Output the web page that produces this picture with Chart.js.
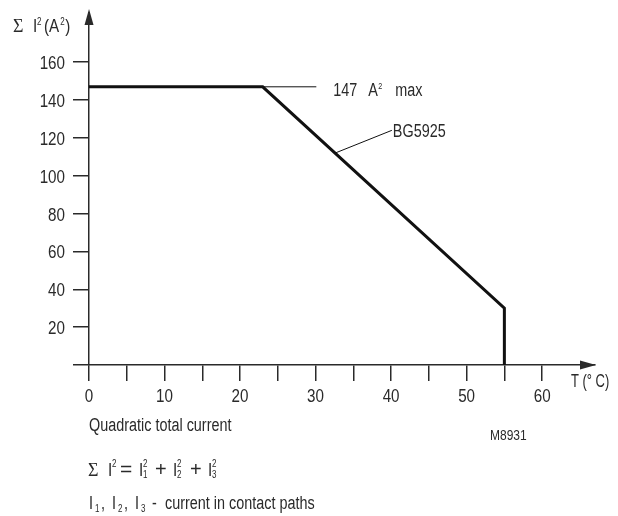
<!DOCTYPE html>
<html>
<head>
<meta charset="utf-8">
<script src="https://cdn.jsdelivr.net/npm/chart.js@4.4.1/dist/chart.umd.min.js"></script>
<style>
  html, body { margin: 0; padding: 0; background: #fff; }
</style>
</head>
<body>
<canvas id="myChart" width="618" height="516"></canvas>
<script>
// data
const temps = [0, 23, 55, 55];
const sumI2 = [147, 147, 30, 0];
const xTicks = [0, 5, 10, 15, 20, 25, 30, 35, 40, 45, 50, 55, 60];
const yTicks = [0, 20, 40, 60, 80, 100, 120, 140, 160];
// leader lines for the two labels
const maxLeaderX = [23, 30.1];
const maxLeaderY = [147, 147];
const bgLeaderX = [32.6, 40.1];
const bgLeaderY = [112, 124];

const FONT = '"Liberation Sans", Arial, sans-serif';
const SERIF = '"Liberation Serif", "DejaVu Serif", serif';
const INK = "#2a2a2a";
const SQ = 0.8; // squeeze to mimic a condensed face

const toPts = (xs, ys) => xs.map((x, i) => ({ x: x, y: ys[i] }));

// draw text squeezed horizontally, returns right edge
function txt(ctx, s, x, y, size, opts) {
  opts = opts || {};
  const sx = opts.sx || SQ;
  const align = opts.align || "left";
  ctx.save();
  ctx.font = size + "px " + (opts.fam || FONT);
  const w = ctx.measureText(s).width * sx;
  let x0 = x;
  if (align === "right") x0 = x - w;
  if (align === "center") x0 = x - w / 2;
  ctx.translate(x0, y);
  ctx.scale(sx, 1);
  ctx.textAlign = "left";
  ctx.fillText(s, 0, 0);
  ctx.restore();
  return x0 + w;
}

const overlay = {
  id: "overlay",
  afterDraw(chart) {
    const ctx = chart.ctx;
    const a = chart.chartArea;
    const xs = chart.scales.x, ys = chart.scales.y;
    ctx.save();
    ctx.fillStyle = INK;
    ctx.textBaseline = "alphabetic";

    // arrow heads
    ctx.beginPath();
    ctx.moveTo(a.left, a.top - 4);
    ctx.lineTo(a.left - 4.5, a.top + 12);
    ctx.lineTo(a.left + 4.5, a.top + 12);
    ctx.closePath();
    ctx.fill();
    ctx.beginPath();
    ctx.moveTo(a.right + 1, a.bottom);
    ctx.lineTo(a.right - 15, a.bottom - 4.5);
    ctx.lineTo(a.right - 15, a.bottom + 4.5);
    ctx.closePath();
    ctx.fill();

    // tick labels from the scales
    xs.ticks.forEach(t => {
      if (t.value % 10 !== 0) return;
      txt(ctx, String(t.value), xs.getPixelForValue(t.value), a.bottom + 37, 19, { align: "center" });
    });
    ys.ticks.forEach(t => {
      if (t.value === 0) return;
      txt(ctx, String(t.value), a.left - 24, ys.getPixelForValue(t.value) + 7, 19, { align: "right" });
    });

    // y axis title
    txt(ctx, "Σ", 13, 32, 18, { fam: SERIF, sx: 1 });
    txt(ctx, "I", 33, 32, 19);
    txt(ctx, "2", 37, 25, 10);
    let e = txt(ctx, "(A", 44, 32, 19);
    txt(ctx, "2", e + 1, 25, 10);
    txt(ctx, ")", e + 6, 32, 19);

    // x axis title
    txt(ctx, "T (° C)", a.right - 24, 387, 18, { sx: 0.72 });

    // 147 A² max
    let px = xs.getPixelForValue(maxLeaderX[1]);
    let py = ys.getPixelForValue(maxLeaderY[1]) + 9;
    txt(ctx, "147", px + 17, py, 18);
    txt(ctx, "A", px + 52, py, 18);
    txt(ctx, "2", px + 62, py - 7, 9);
    txt(ctx, "max", px + 79, py, 18);

    // BG5925
    px = xs.getPixelForValue(bgLeaderX[1]) + 1;
    py = ys.getPixelForValue(bgLeaderY[1]) + 7;
    txt(ctx, "BG5925", px, py, 18);

    // notes below the chart
    txt(ctx, "Quadratic total current", 89, 431, 18);
    txt(ctx, "M8931", 490, 440, 15);

    txt(ctx, "Σ", 88, 476, 18, { fam: SERIF, sx: 1 });
    txt(ctx, "I", 108, 476, 19);
    txt(ctx, "2", 112, 467, 10);
    txt(ctx, "=", 120, 476, 20, { sx: 1.05 });
    txt(ctx, "I", 139, 476, 19);
    txt(ctx, "2", 143, 467, 10);
    txt(ctx, "1", 143, 478, 10);
    txt(ctx, "+", 155, 476, 20, { sx: 1.0 });
    txt(ctx, "I", 173, 476, 19);
    txt(ctx, "2", 177, 467, 10);
    txt(ctx, "2", 177, 478, 10);
    txt(ctx, "+", 190, 476, 20, { sx: 1.0 });
    txt(ctx, "I", 208, 476, 19);
    txt(ctx, "2", 212, 467, 10);
    txt(ctx, "3", 212, 478, 10);

    txt(ctx, "I", 89, 509, 18);
    txt(ctx, "1", 95, 512, 10);
    txt(ctx, ",", 101, 509, 18);
    txt(ctx, "I", 112, 509, 18);
    txt(ctx, "2", 118, 512, 10);
    txt(ctx, ",", 124, 509, 18);
    txt(ctx, "I", 135, 509, 18);
    txt(ctx, "3", 141, 512, 10);
    txt(ctx, "-", 152, 509, 18);
    txt(ctx, "current in contact paths", 165, 509, 18);
    ctx.restore();
  }
};

const ctx = document.getElementById("myChart").getContext("2d");

const data = {
  datasets: [
    {
      data: toPts(temps, sumI2),
      borderColor: "#111",
      borderWidth: 3,
      pointRadius: 0,
      fill: false
    },
    {
      data: toPts(maxLeaderX, maxLeaderY),
      borderColor: "#111",
      borderWidth: 1,
      pointRadius: 0
    },
    {
      data: toPts(bgLeaderX, bgLeaderY),
      borderColor: "#111",
      borderWidth: 1,
      pointRadius: 0
    }
  ]
};

const config = {
  type: "line",
  data: data,
  options: {
    responsive: false,
    animation: false,
    devicePixelRatio: 1,
    layout: { padding: { left: 0, right: 23, top: 13, bottom: 0 } },
    plugins: { legend: { display: false }, tooltip: { enabled: false } },
    scales: {
      x: {
        type: "linear",
        min: 0,
        max: 67,
        afterBuildTicks: (s) => { s.ticks = xTicks.map(v => ({ value: v })); },
        afterFit: (s) => { s.height = 151; },
        ticks: { display: false, autoSkip: false },
        grid: { drawOnChartArea: false, tickLength: 16, color: INK, lineWidth: 1.5 },
        border: { color: INK, width: 1.5 }
      },
      y: {
        min: 0,
        max: 186,
        afterBuildTicks: (s) => { s.ticks = yTicks.map(v => ({ value: v })); },
        afterFit: (s) => { s.width = 89; },
        ticks: { display: false, autoSkip: false },
        grid: { drawOnChartArea: false, tickLength: 16, color: INK, lineWidth: 1.5 },
        border: { color: INK, width: 1.5 }
      }
    }
  },
  plugins: [overlay]
};

const myChart = new Chart(ctx, config);
</script>
</body>
</html>
